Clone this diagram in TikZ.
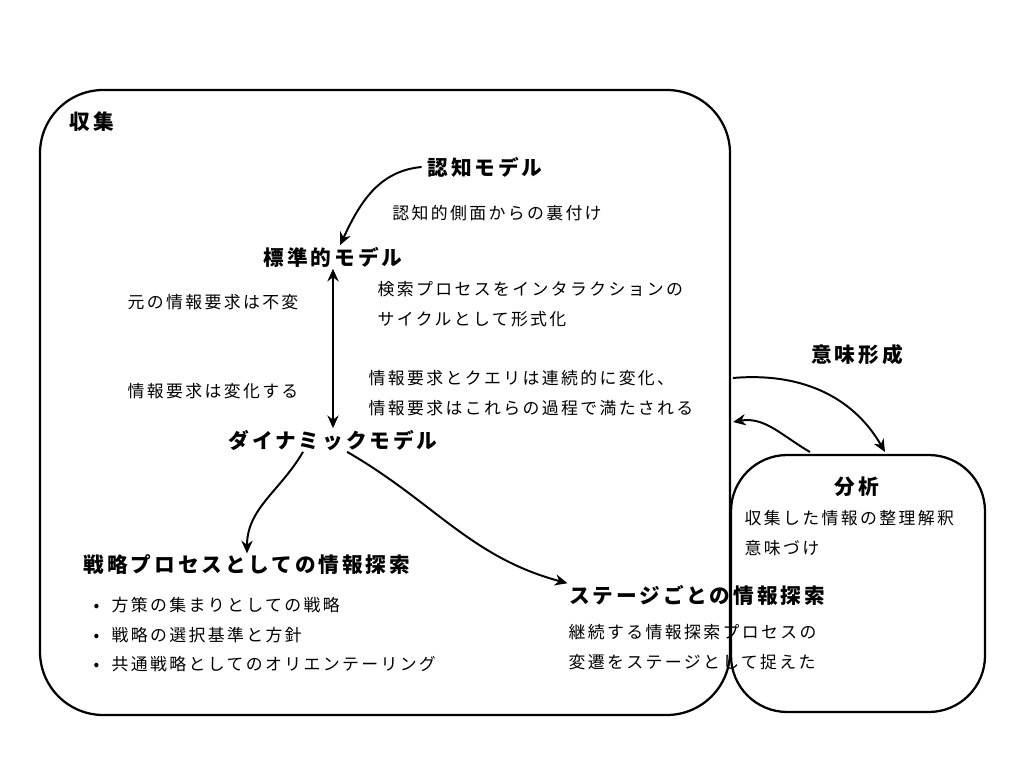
\documentclass[tikz,border=0pt]{standalone}
\usepackage{fontspec}
\setmainfont{Noto Sans CJK JP}[LetterSpace=14]
\usetikzlibrary{arrows.meta}
\tikzstyle{title} = [font=\fontsize{14.7}{17}\selectfont\bfseries, inner sep=1pt]
\tikzstyle{note} = [font=\fontsize{12}{21}\selectfont, inner sep=1pt, align=left]
\tikzstyle{arrow} = [line width=1.4pt, -{Stealth[length=9pt,width=8pt]}]
\begin{document}
\begin{tikzpicture}[x=0.025cm, y=-0.025cm]
	\useasboundingbox (0,0) rectangle (1024,768);
	% boxes
	\draw[line width=1.6pt, rounded corners=45] (40,90) rectangle (730,715);
	\draw[line width=1.6pt, rounded corners=40] (731,455) rectangle (985,712);

	\node (collect) [title] at (92,122) {収集};
	\node (cog) [title] at (485,167) {認知モデル};
	\node (cognote) [note] at (497,213) {認知的側面からの裏付け};
	\node (std) [title] at (333,257) {標準的モデル};
	\node (keep) [note] at (213,302) {元の情報要求は不変};
	\node (stdnote) [note, anchor=west] at (376,304) {検索プロセスをインタラクションの\\サイクルとして形式化};
	\node (change) [note] at (213,391) {情報要求は変化する};
	\node (dynnote) [note, anchor=west] at (367,393) {情報要求とクエリは連続的に変化、\\情報要求はこれらの過程で満たされる};
	\node (dyn) [title] at (333,440) {ダイナミックモデル};
	\node (strat) [title] at (247,565) {戦略プロセスとしての情報探索};
	\node (stratlist) [note, anchor=north west] at (92,596) {•\ \ 方策の集まりとしての戦略\\•\ \ 戦略の選択基準と方針\\•\ \ 共通戦略としてのオリエンテーリング};
	\node (stage) [title] at (697,595) {ステージごとの情報探索};
	\node (stagenote) [note, anchor=west] at (567,647) {継続する情報探索プロセスの\\変遷をステージとして捉えた};
	\node (sense) [title] at (857,355) {意味形成};
	\node (anal) [title] at (857,487) {分析};
	\node (analnote) [note, anchor=west] at (743,533) {収集した情報の整理解釈\\意味づけ};
	\coordinate (out) at (733,378);
	\coordinate (in) at (733,422);

	\draw[arrow] ([xshift=-3pt]cog.west) to[out=185, in=65] ([xshift=5pt]std.north);
	\draw[arrow, {Stealth[length=9pt,width=8pt]}-{Stealth[length=9pt,width=8pt]}] (std.south) -- (dyn.north);
	\draw[arrow] (dyn.south) ++(-30,0) to[out=-120, in=90] (strat.north);
	\draw[arrow] ([xshift=10pt]dyn.south) to[out=-30, in=165] (stage.north west);
	\draw[arrow] (out) to[out=5, in=120] (885,452);
	\draw[arrow] (810,452) to[out=150, in=10] (in);
\end{tikzpicture}
\end{document}
